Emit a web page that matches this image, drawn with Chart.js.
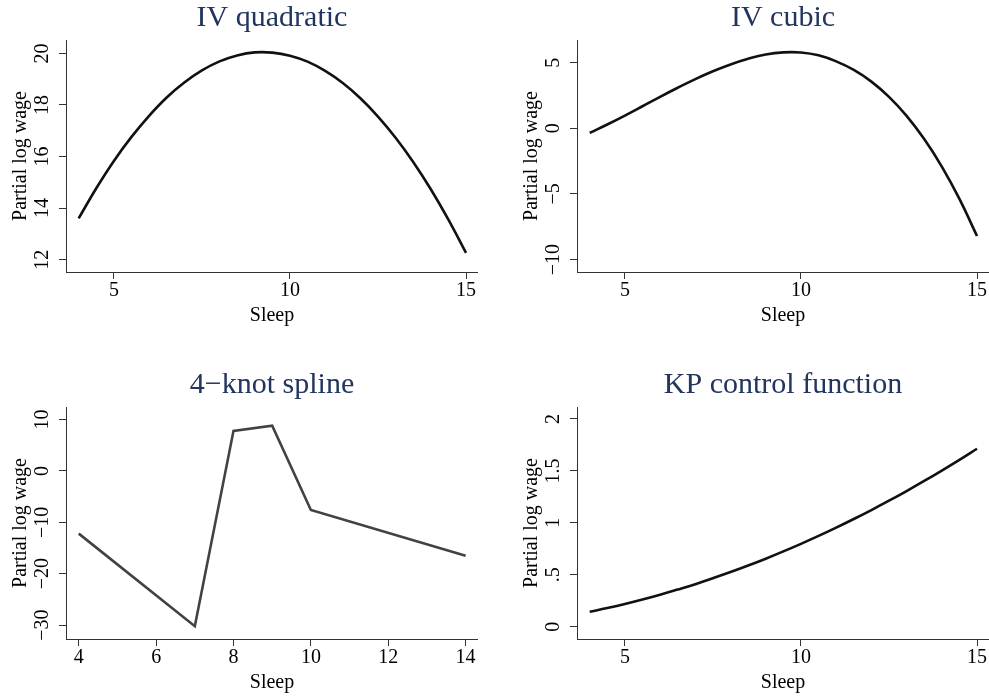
<!DOCTYPE html>
<html>
<head>
<meta charset="utf-8">
<script src="https://cdn.jsdelivr.net/npm/chart.js@4.4.1/dist/chart.umd.min.js"></script>
<style>
  html, body { margin: 0; padding: 0; background: #fff; }
  #wrap { position: relative; width: 989px; height: 696px; overflow: hidden; }
  canvas { position: absolute; }
</style>
</head>
<body>
<div id="wrap">
  <canvas id="c1" width="478" height="329" style="left:0;top:0"></canvas>
  <canvas id="c2" width="478" height="329" style="left:511px;top:0"></canvas>
  <canvas id="c3" width="478" height="329" style="left:0;top:367px"></canvas>
  <canvas id="c4" width="478" height="329" style="left:511px;top:367px"></canvas>
</div>
<script>
// values
const sleepGrid = [4, 4.5, 5, 5.5, 6, 6.5, 7, 7.5, 8, 8.5, 9, 9.5, 10, 10.5, 11, 11.5, 12, 12.5, 13, 13.5, 14, 14.5, 15];
const quadWage = [13.60, 14.77, 15.83, 16.76, 17.58, 18.29, 18.87, 19.34, 19.69, 19.92, 20.04, 20.03, 19.91, 19.68, 19.32, 18.85, 18.26, 17.55, 16.73, 15.79, 14.73, 13.55, 12.26];
const cubicWage = [-0.35, 0.29, 0.97, 1.68, 2.40, 3.09, 3.75, 4.35, 4.87, 5.30, 5.63, 5.79, 5.78, 5.56, 5.10, 4.45, 3.56, 2.40, 0.95, -0.82, -2.92, -5.38, -8.21];
const kpWage = [0.144, 0.180, 0.219, 0.262, 0.308, 0.358, 0.410, 0.467, 0.526, 0.589, 0.655, 0.725, 0.798, 0.874, 0.954, 1.037, 1.123, 1.213, 1.306, 1.403, 1.503, 1.606, 1.713];
const splineSleep = [4, 7, 8, 9, 10, 14];
const splineWage = [-12.2, -30.2, 7.8, 8.8, -7.6, -16.5];

const sleepTicks = [5, 10, 15];
const splineSleepTicks = [4, 6, 8, 10, 12, 14];
const quadTicks = [12, 14, 16, 18, 20];
const cubicTicks = [-10, -5, 0, 5];
const splineTicks = [-30, -20, -10, 0, 10];
const kpTicks = [0, 0.5, 1, 1.5, 2];

const axisColor = '#333333';
const titleColor = '#22355f';
Chart.defaults.font.family = '"Liberation Serif", serif';
Chart.defaults.font.size = 20;
Chart.defaults.color = '#000';

// Stata style numbers: long minus, no leading zero
function stataNum(v) {
  const s = String(Math.abs(v)).replace(/^0\./, '.');
  return v < 0 ? '\u2212' + s : s;
}

// rotated y labels are centred by chart.js on widest/2, so work out the padding
const meas = document.createElement('canvas').getContext('2d');
meas.font = '20px "Liberation Serif"';
function yTickPad(ticks) {
  const w = Math.max(...ticks.map(v => meas.measureText(stataNum(v)).width));
  return 23 - 7 - w / 2;
}

function xScale(min, max, ticks) {
  return {
    type: 'linear', min: min, max: max,
    afterBuildTicks: s => { s.ticks = ticks.map(v => ({ value: v })); },
    afterFit: s => { s.height = 56; },
    border: { color: axisColor, width: 1 },
    grid: { drawOnChartArea: false, tickLength: 7, color: axisColor },
    ticks: { padding: 0, autoSkip: false, maxRotation: 0, callback: v => stataNum(v) },
    title: { display: true, text: 'Sleep', padding: 0 }
  };
}

function yScale(min, max, ticks) {
  return {
    type: 'linear', min: min, max: max,
    afterBuildTicks: s => { s.ticks = ticks.map(v => ({ value: v })); },
    afterFit: s => { s.width = 66; },
    border: { color: axisColor, width: 1 },
    grid: { drawOnChartArea: false, tickLength: 7, color: axisColor },
    ticks: {
      minRotation: 90, maxRotation: 90, crossAlign: 'center',
      padding: yTickPad(ticks), autoSkip: false, callback: v => stataNum(v)
    },
    title: { display: true, text: 'Partial log wage', padding: { top: 9, bottom: 0 } }
  };
}

function panel(id, title, xs, ys, color, tension, x, y) {
  return new Chart(document.getElementById(id), {
    type: 'scatter',
    data: {
      datasets: [{
        data: xs.map((v, i) => ({ x: v, y: ys[i] })),
        showLine: true,
        borderColor: color,
        borderWidth: 2.6,
        pointRadius: 0,
        tension: tension
      }]
    },
    options: {
      responsive: false,
      animation: false,
      layout: { padding: { left: 0, right: 0, top: 0, bottom: 1 } },
      plugins: {
        legend: { display: false },
        tooltip: { enabled: false },
        title: {
          display: true, text: title, color: titleColor, fullSize: false,
          font: { size: 30, weight: 'normal' },
          padding: { top: 0, bottom: 4 }
        }
      },
      scales: { x: x, y: y }
    }
  });
}

panel('c1', 'IV quadratic', sleepGrid, quadWage, '#111', 0.4,
  xScale(3.64, 15.34, sleepTicks), yScale(11.52, 20.52, quadTicks));
panel('c2', 'IV cubic', sleepGrid, cubicWage, '#111', 0.4,
  xScale(3.64, 15.34, sleepTicks), yScale(-10.95, 6.73, cubicTicks));
panel('c3', '4\u2212knot spline', splineSleep, splineWage, '#424242', 0,
  xScale(3.67, 14.32, splineSleepTicks), yScale(-32.7, 12.44, splineTicks));
panel('c4', 'KP control function', sleepGrid, kpWage, '#111', 0.4,
  xScale(3.64, 15.34, sleepTicks), yScale(-0.118, 2.115, kpTicks));
</script>
</body>
</html>
